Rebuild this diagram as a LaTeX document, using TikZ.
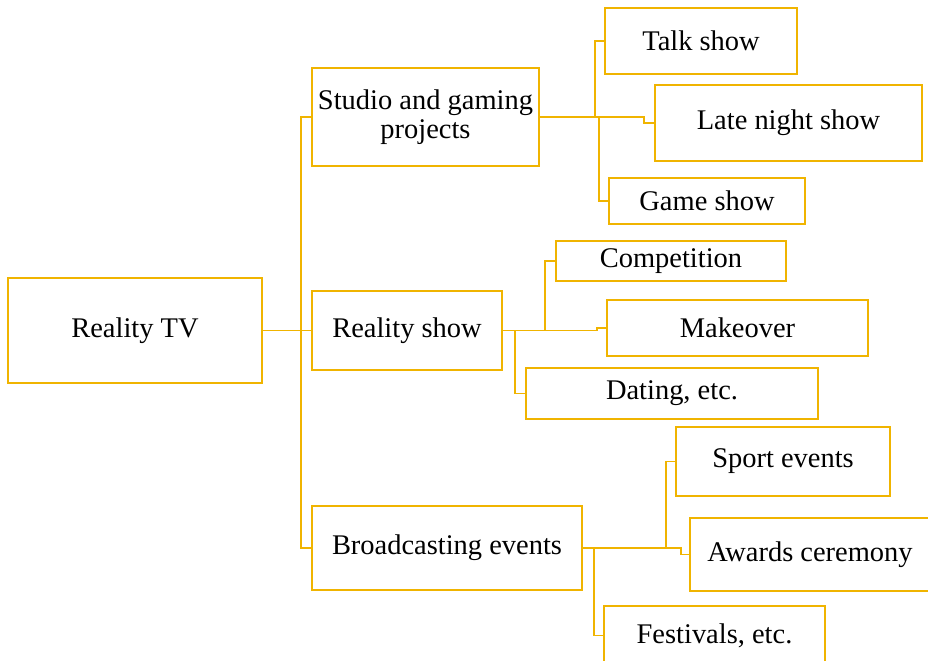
\documentclass[tikz,border=0pt]{standalone}
\usepackage{fontspec}
\setmainfont{Liberation Serif}
\definecolor{gold}{RGB}{240,180,0}

\begin{document}
\begin{tikzpicture}
    [
      x=0.02cm, y=-0.02cm,
      box/.style={draw=gold,line width=1.1pt,inner sep=0pt,align=center,
        font=\fontsize{16.2}{16.5}\selectfont},
      link/.style={draw=gold,line width=1.1pt},
    ]
    \useasboundingbox (0,0) rectangle (928,660);

    \node (tv) [box,minimum width=5.08cm,minimum height=2.1cm] at (135,330.5) {Reality TV};

    \node (studio) [box,minimum width=4.54cm,minimum height=1.96cm] at (425.5,117) {Studio and gaming\\projects};
    \node (rshow) [box,minimum width=3.8cm,minimum height=1.58cm] at (407,330.5) {Reality show};
    \node (broad) [box,minimum width=5.4cm,minimum height=1.68cm] at (447,548) {Broadcasting events};

    \node (talk) [box,minimum width=3.84cm,minimum height=1.32cm] at (701,41) {Talk show};
    \node (late) [box,minimum width=5.34cm,minimum height=1.52cm] at (788.5,123) {Late night show};
    \node (game) [box,minimum width=3.92cm,minimum height=0.92cm] at (707,201) {Game show};

    \node (comp) [box,minimum width=4.6cm,minimum height=0.8cm] at (671,261) {Competition};
    \node (makeover) [box,minimum width=5.22cm,minimum height=1.12cm] at (737.5,328) {Makeover};
    \node (dating) [box,minimum width=5.84cm,minimum height=1.02cm] at (672,393.5) {Dating, etc.};

    \node (sport) [box,minimum width=4.28cm,minimum height=1.38cm] at (783,461.5) {Sport events};
    \node (awards) [box,minimum width=4.8cm,minimum height=1.46cm] at (810,554.5) {Awards ceremony};
    \node (fest) [box,minimum width=4.42cm,minimum height=1.18cm] at (714.5,635.5) {Festivals, etc.};

    \draw [link] (tv.east) -- ++(38,0) |- (studio.west);
    \draw [link] (tv.east) -- ++(38,0) |- (rshow.west);
    \draw [link] (tv.east) -- ++(38,0) |- (broad.west);

    \draw [link] (studio.east) -- ++(55,0) |- (talk.west);
    \draw [link] (studio.east) -- ++(104,0) |- (late.west);
    \draw [link] (studio.east) -- ++(59,0) |- (game.west);

    \draw [link] (rshow.east) -- ++(42,0) |- (comp.west);
    \draw [link] (rshow.east) -- ++(94,0) |- (makeover.west);
    \draw [link] (rshow.east) -- ++(12,0) |- (dating.west);

    \draw [link] (broad.east) -- ++(83,0) |- (sport.west);
    \draw [link] (broad.east) -- ++(98,0) |- (awards.west);
    \draw [link] (broad.east) -- ++(11,0) |- (fest.west);

\end{tikzpicture}
\end{document}
